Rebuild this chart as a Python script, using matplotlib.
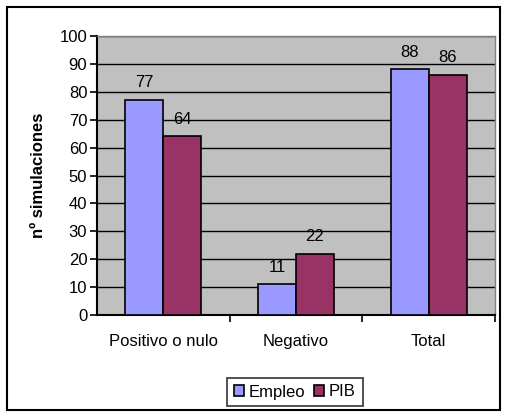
import matplotlib
matplotlib.use("Agg")
import matplotlib.pyplot as plt
from matplotlib.patches import Rectangle
import numpy as np

categories = ["Positivo o nulo", "Negativo", "Total"]
empleo = [77, 11, 88]
pib = [64, 22, 86]
series_names = ["Empleo", "PIB"]

plt.rcParams["font.family"] = ["Liberation Sans", "DejaVu Sans"]
FS = 12

W, H = 505, 413
fig = plt.figure(figsize=(W / 100, H / 100), dpi=100)
fig.patch.set_facecolor("white")

# outer chart border
fig.patches.append(Rectangle((7 / W, 1 - 410 / H), 493 / W, 403 / H,
                             transform=fig.transFigure, fill=False,
                             edgecolor="black", linewidth=1.5))

ax = fig.add_axes([97 / W, 1 - 315 / H, 398 / W, 279 / H])
ax.set_facecolor("#C0C0C0")

x = np.arange(len(categories))
w = 1 / 3.5
b1 = ax.bar(x - w / 2, empleo, w, color="#9999FF", edgecolor="black", linewidth=1.2, label=series_names[0], zorder=3)
b2 = ax.bar(x + w / 2, pib, w, color="#993366", edgecolor="black", linewidth=1.2, label=series_names[1], zorder=3)

for bars in (b1, b2):
    for r in bars:
        ax.text(r.get_x() + r.get_width() / 2, r.get_height() + 3.5, str(int(r.get_height())),
                ha="center", va="bottom", fontsize=FS, zorder=4)

ax.set_xlim(-0.5, 2.5)
ax.set_ylim(0, 100)
ax.set_yticks(range(0, 101, 10))
ax.yaxis.grid(True, color="black", linewidth=1, zorder=1)
ax.set_axisbelow(True)

ax.set_xticks(x)
ax.set_xticklabels(categories, fontsize=FS)
ax.tick_params(axis="x", length=0, pad=14)
ax.set_xticks([0.5, 1.5, 2.5], minor=True)
ax.tick_params(axis="x", which="minor", length=5, width=1.2, direction="out")
ax.tick_params(axis="y", length=5, width=1.2, labelsize=FS, pad=2)

for s in ["top", "right"]:
    ax.spines[s].set_color("#808080")
    ax.spines[s].set_linewidth(1)
for s in ["left", "bottom"]:
    ax.spines[s].set_color("black")
    ax.spines[s].set_linewidth(1.5)

ax.set_ylabel("nº simulaciones", fontsize=FS, fontweight="bold", labelpad=10)

leg = fig.legend(loc="center", bbox_to_anchor=(295 / W, 1 - 392 / H), ncol=2,
                 fontsize=FS, frameon=True, fancybox=False, edgecolor="black",
                 handlelength=0.6, handleheight=0.6, handletextpad=0.3,
                 columnspacing=0.5, borderpad=0.4)
leg.get_frame().set_linewidth(1.2)

fig.savefig("out.png", dpi=100)
